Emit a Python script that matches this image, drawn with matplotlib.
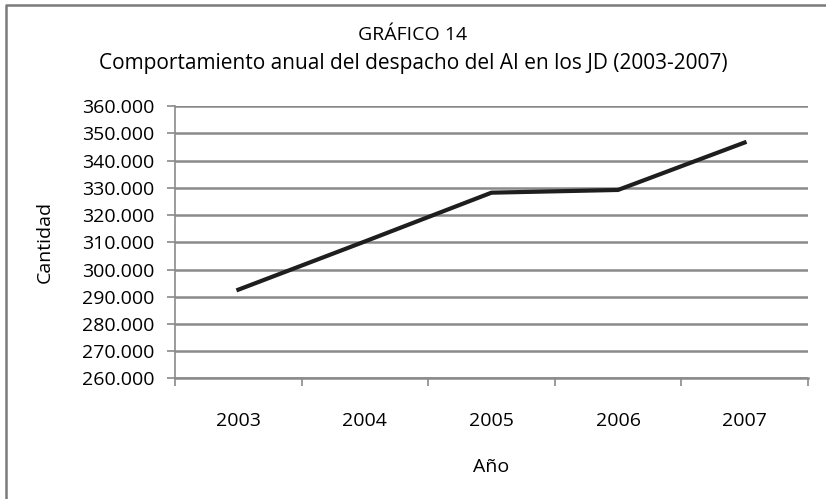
import numpy as np
import matplotlib.pyplot as plt
import matplotlib
from matplotlib.lines import Line2D
from matplotlib.ticker import FuncFormatter

matplotlib.rcParams['font.family'] = ['Open Sans', 'DejaVu Sans']

# ─── Data ───
years = ['2003', '2004', '2005', '2006', '2007']
cantidad = [292600, 310300, 328200, 329200, 346600]

y_min, y_max, y_step = 260000, 360000, 10000

fig = plt.figure(figsize=(8.26, 4.99), dpi=100)
ax = fig.add_axes([0.212, 0.2415, 0.766, 0.546])

x = np.arange(1, len(years) + 1)
ax.plot(x, cantidad, color='#1e1e1e', linewidth=3.0, solid_joinstyle='miter', zorder=3)

ax.set_xlim(0.5, len(years) + 0.5)
ax.set_ylim(y_min, y_max)
ax.set_yticks(np.arange(y_min, y_max + 1, y_step))
ax.yaxis.set_major_formatter(FuncFormatter(lambda v, p: f"{int(v):,}".replace(',', '.')))
ax.grid(True, axis='y', color='#8a8a8a', linewidth=1.8)
ax.set_axisbelow(True)

# category labels centred, ticks at category boundaries
ax.set_xticks(x)
ax.set_xticklabels(years)
ax.set_xticks(np.arange(0.5, len(years) + 1), minor=True)
ax.tick_params(axis='x', which='major', length=0, pad=24, labelsize=14)
ax.tick_params(axis='x', which='minor', length=6, color='#8a8a8a', width=1.2)
ax.tick_params(axis='y', length=6, color='#8a8a8a', width=1.2, labelsize=14, pad=9)

for s in ['top', 'right']:
    ax.spines[s].set_visible(False)
ax.spines['left'].set_color('#8a8a8a')
ax.spines['left'].set_linewidth(1.2)
ax.spines['bottom'].set_color('#8a8a8a')
ax.spines['bottom'].set_linewidth(1.8)

ax.set_xlabel('Año', fontsize=14, labelpad=20)
ax.set_ylabel('Cantidad', fontsize=14, labelpad=20)

fig.text(0.5, 0.93, 'GRÁFICO 14', ha='center', va='center', fontsize=14)
fig.text(0.5, 0.872, 'Comportamiento anual del despacho del AI en los JD (2003-2007)',
         ha='center', va='center', fontsize=15)

# chart area border (only top and left edges visible)
fig.lines.append(Line2D([0.007, 0.007, 1.0], [0.0, 0.99, 0.99], transform=fig.transFigure,
                        color='#7a7a7a', linewidth=1.8))

plt.savefig('out.png', dpi=100, facecolor='white')
plt.close()
